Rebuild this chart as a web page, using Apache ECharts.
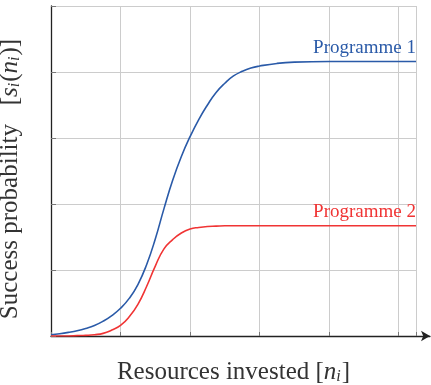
<!DOCTYPE html>
<html>
<head>
<meta charset="utf-8">
<script src="https://cdn.jsdelivr.net/npm/echarts@6/dist/echarts.min.js"></script>
<style>
html,body{margin:0;padding:0;background:#fff;}
#c{width:431px;height:385px;}
</style>
</head>
<body>
<div id="c"></div>
<script>
// Resources invested (x, arbitrary units; gridlines every 1)
var xs = [0, 0.125, 0.25, 0.375, 0.5, 0.625, 0.75, 0.875, 1.0, 1.125, 1.25, 1.375, 1.5, 1.625, 1.75, 1.875, 2.0, 2.125, 2.25, 2.375, 2.5, 2.625, 2.75, 2.875, 3.0, 3.25, 3.5, 4.0, 4.5, 5.0, 5.25];
// Programme 1 success probability (arbitrary units; gridlines every 1)
var prog1 = [0.02, 0.035, 0.055, 0.08, 0.115, 0.16, 0.225, 0.31, 0.42, 0.57, 0.78, 1.08, 1.47, 1.93, 2.36, 2.72, 3.02, 3.28, 3.50, 3.69, 3.83, 3.94, 4.01, 4.06, 4.09, 4.13, 4.15, 4.16, 4.16, 4.16, 4.16];
// Programme 2 success probability
var prog2 = [0.0, 0.0, 0.0, 0.005, 0.01, 0.02, 0.04, 0.09, 0.16, 0.29, 0.48, 0.75, 1.06, 1.32, 1.46, 1.56, 1.62, 1.645, 1.66, 1.665, 1.67, 1.67, 1.67, 1.67, 1.67, 1.67, 1.67, 1.67, 1.67, 1.67, 1.67];
var names = ['Programme 1', 'Programme 2'];
var colors = ['#2a5aa8', '#f03434'];

var FONT = 'Liberation Serif';

function pairs(ys) { return xs.map(function (x, i) { return [x, ys[i]]; }); }
function endMark(ys, name, color) {
  var n = xs.length - 1;
  return {
    symbol: 'circle', symbolSize: 0, silent: true,
    data: [{ coord: [xs[n], ys[n]] }],
    label: {
      show: true, formatter: name, position: 'top', align: 'right', distance: 4,
      color: color, fontFamily: FONT, fontSize: 19
    }
  };
}

var chart = echarts.init(document.getElementById('c'), null, { renderer: 'canvas' });
var rich = {
  n: { fontFamily: FONT, fontSize: 25, color: '#333' },
  i: { fontFamily: FONT, fontSize: 25, fontStyle: 'italic', color: '#333' },
  s: { fontFamily: FONT, fontSize: 16, fontStyle: 'italic', color: '#333', verticalAlign: 'bottom', padding: [0, 1, 0, 0] }
};
chart.setOption({
  animation: false,
  backgroundColor: '#fff',
  grid: [
    { left: 51, right: 15, top: 6, bottom: 49, outerBoundsMode: 'none', containLabel: false },
    { left: 51, right: 1, top: 6, bottom: 49, outerBoundsMode: 'none', containLabel: false }
  ],
  xAxis: [
    {
      gridIndex: 0, type: 'value', min: 0, max: 5.25, interval: 1,
      axisLine: { show: false },
      axisTick: { show: true, inside: true, length: 4, lineStyle: { color: '#777' } },
      axisLabel: { show: false },
      splitLine: { show: true, lineStyle: { color: '#cccccc', width: 1 } },
      name: '{n|Resources invested [}{i|n}{s|i}{n|]}',
      nameLocation: 'middle', nameGap: 24,
      nameTextStyle: { rich: rich }
    },
    {
      gridIndex: 1, type: 'value', min: 0, max: 1,
      axisLine: { show: true, symbol: ['none', 'arrow'], symbolSize: [8, 9], lineStyle: { color: '#222', width: 1.3 } },
      axisTick: { show: false }, axisLabel: { show: false }, splitLine: { show: false }
    }
  ],
  yAxis: [
    {
      gridIndex: 0, type: 'value', min: 0, max: 5, interval: 1,
      axisLine: { show: true, lineStyle: { color: '#222', width: 1.3 } },
      axisTick: { show: true, inside: true, length: 5, lineStyle: { color: '#777' } },
      axisLabel: { show: false },
      splitLine: { show: true, lineStyle: { color: '#cccccc', width: 1 } },
      name: '{n|Success probability   [}{i|s}{s|i}{n|(}{i|n}{s|i}{n|)]}',
      nameLocation: 'middle', nameGap: 28, nameRotate: 90,
      nameTextStyle: { rich: rich, padding: [0, 16, 0, 0] }
    },
    {
      gridIndex: 1, type: 'value', min: 0, max: 1, show: false
    }
  ],
  series: [
    {
      type: 'line', name: names[0], xAxisIndex: 0, yAxisIndex: 0,
      data: pairs(prog1), smooth: 0.5, showSymbol: false, symbol: 'none',
      lineStyle: { color: colors[0], width: 1.6 },
      markPoint: endMark(prog1, names[0], colors[0])
    },
    {
      type: 'line', name: names[1], xAxisIndex: 0, yAxisIndex: 0,
      data: pairs(prog2), smooth: 0.5, showSymbol: false, symbol: 'none',
      lineStyle: { color: colors[1], width: 1.6 },
      markPoint: endMark(prog2, names[1], colors[1])
    }
  ]
});
</script>
</body>
</html>
